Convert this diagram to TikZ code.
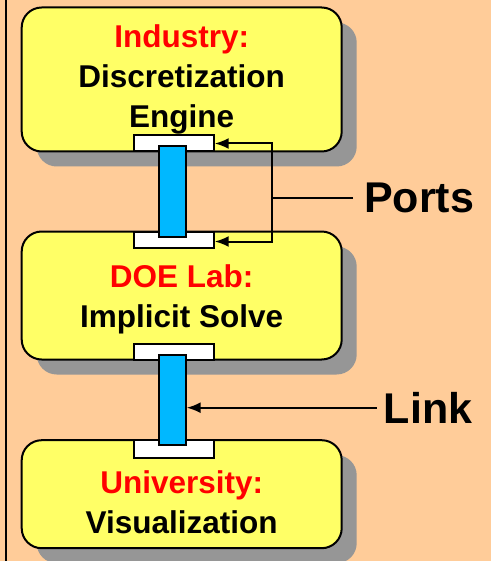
\documentclass[tikz,border=0pt]{standalone}
\usepackage{fontspec}
\setmainfont{Liberation Sans}
\usetikzlibrary{shadows,positioning,arrows.meta}
\definecolor{peach}{HTML}{FFCC99}
\definecolor{sitefill}{HTML}{FFFF66}
\definecolor{shadowgray}{HTML}{969696}
\definecolor{linkblue}{HTML}{00B8FF}
\tikzset{site/.style={draw,line width=2pt,rounded corners=20pt,fill=sitefill,minimum width=320pt,
  drop shadow={shadow xshift=15pt,shadow yshift=-15pt,fill=shadowgray,opacity=1}}}
\tikzset{port/.style={draw,line width=2pt,fill=white,minimum width=80pt,minimum height=16pt,inner sep=0pt}}
\tikzset{linkbar/.style={draw,line width=2pt,fill=linkblue}}
\tikzset{sitetext/.style={font=\bfseries\fontsize{31.5}{40}\selectfont,align=center}}
\tikzset{callout/.style={font=\bfseries\fontsize{43}{43}\selectfont,inner ysep=0pt}}
\tikzset{pointer/.style={line width=2pt,-{Latex[length=14pt,width=11pt]}}}

\begin{document}
\begin{tikzpicture}[x=1pt,y=-1pt]

\fill[peach] (0,0) rectangle (491,561);
\useasboundingbox (0,0) rectangle (491,561);
\draw[line width=2pt] (6,0) -- (6,561);

\node[site,minimum height=144pt] (industry) at (181.7,79.5) {};
\node[site,minimum height=128pt] (doelab) at (181.7,295.5) {};
\node[site,minimum height=108pt] (univ) at (181.7,494.2) {};

\node[sitetext] (industrytext) at (industry) {\textcolor{red}{Industry:}\\Discretization\\Engine};
\node[sitetext,yshift=-4pt] (doelabtext) at (doelab) {\textcolor{red}{DOE Lab:}\\Implicit Solve};
\node[sitetext,yshift=-8pt] (univtext) at (univ) {\textcolor{red}{University:}\\Visualization};

\node[port,anchor=south,xshift=-8pt] (indport) at (industry.south) {};
\node[port,anchor=north,xshift=-8pt] (doetop) at (doelab.north) {};
\node[port,anchor=south,xshift=-8pt] (doebot) at (doelab.south) {};
\node[port,anchor=north,xshift=-8pt,minimum height=18pt] (unitop) at (univ.north) {};

\draw[linkbar] ([xshift=-15pt,yshift=6pt]indport.south) rectangle ([xshift=12pt,yshift=-6pt]doetop.north);
\draw[linkbar] ([xshift=-15pt,yshift=6pt]doebot.south) rectangle ([xshift=12pt,yshift=-6pt]unitop.north);
\coordinate (lowbar) at ([xshift=13pt]doebot.south);

\node[callout,anchor=west,inner xsep=11pt] (ports) at (353,197.7) {Ports};
\coordinate (portsplit) at (271.7,197.7);
\draw[line width=2pt] (ports.west) -- (portsplit);
\draw[pointer] (portsplit) |- (indport.east);
\draw[pointer] (portsplit) |- ([yshift=-2pt]doetop.east);

\node[callout,anchor=west,inner xsep=7pt] (link) at (376.7,407.7) {Link};
\draw[pointer] (link.west) -- (link.west -| lowbar);

\end{tikzpicture}
\end{document}
